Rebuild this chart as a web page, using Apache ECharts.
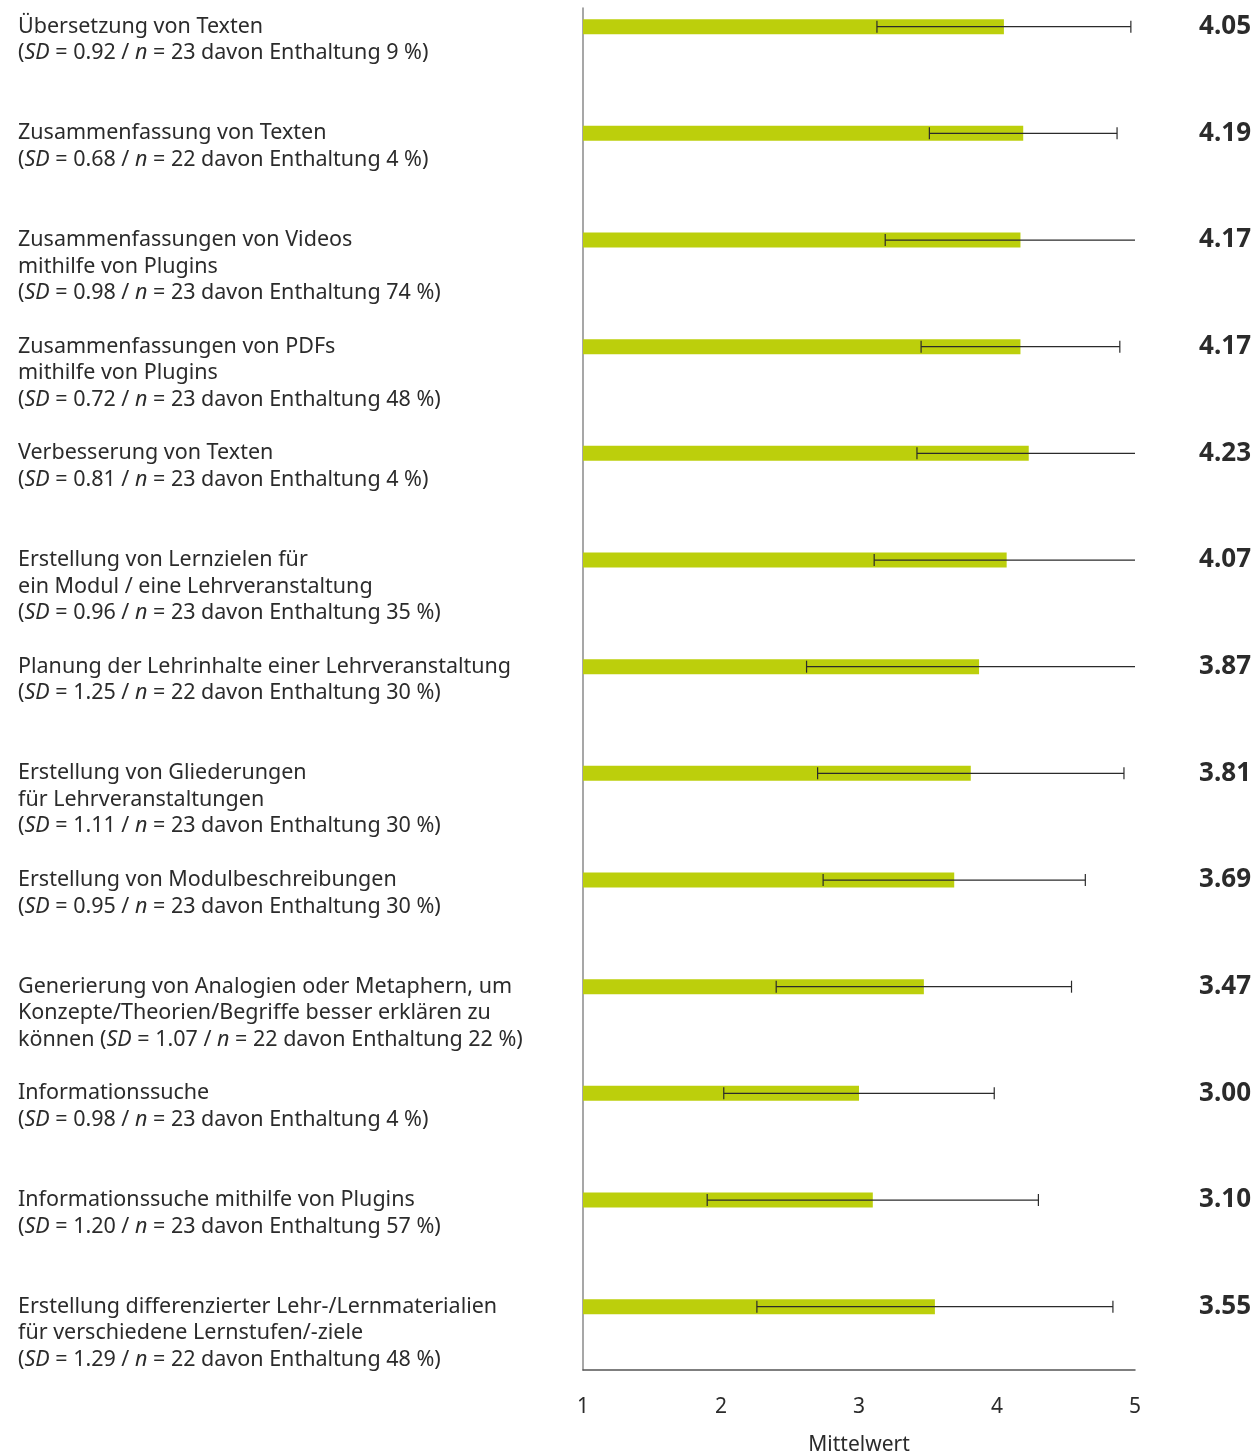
<!DOCTYPE html>
<html>
<head>
<meta charset="utf-8">
<script src="https://cdn.jsdelivr.net/npm/echarts@6/dist/echarts.min.js"></script>
<style>
  html, body { margin: 0; padding: 0; background: #fff; }
  #chart { width: 1258px; height: 1454px; }
</style>
</head>
<body>
<div id="chart"></div>
<script>
// item texts (the last line break / space joins the SD part)
var names = [
    'Übersetzung von Texten\n',
    'Zusammenfassung von Texten\n',
    'Zusammenfassungen von Videos\nmithilfe von Plugins\n',
    'Zusammenfassungen von PDFs\nmithilfe von Plugins\n',
    'Verbesserung von Texten\n',
    'Erstellung von Lernzielen für\nein Modul / eine Lehrveranstaltung\n',
    'Planung der Lehrinhalte einer Lehrveranstaltung\n',
    'Erstellung von Gliederungen\nfür Lehrveranstaltungen\n',
    'Erstellung von Modulbeschreibungen\n',
    'Generierung von Analogien oder Metaphern, um\nKonzepte/Theorien/Begriffe besser erklären zu\nkönnen ',
    'Informationssuche\n',
    'Informationssuche mithilfe von Plugins\n',
    'Erstellung differenzierter Lehr-/Lernmaterialien\nfür verschiedene Lernstufen/-ziele\n'
];
var means = [4.05, 4.19, 4.17, 4.17, 4.23, 4.07, 3.87, 3.81, 3.69, 3.47, 3.00, 3.10, 3.55];
var sdValues = [0.92, 0.68, 0.98, 0.72, 0.81, 0.96, 1.25, 1.11, 0.95, 1.07, 0.98, 1.20, 1.29];
var nValues = [23, 22, 23, 23, 23, 23, 22, 23, 23, 22, 23, 23, 22];
var abstention = [9, 4, 74, 48, 4, 35, 30, 30, 30, 22, 4, 57, 48];
var xTicks = [1, 2, 3, 4, 5];

var textColor = '#2b2b2b';
var fontFam = '"Noto Sans", sans-serif';
var idx = names.map(function (d, i) { return i; });

var domChart = document.getElementById('chart');
var myChart = echarts.init(domChart);

function itemLabel(value, i) {
    return names[i] + '({i|SD} = ' + sdValues[i].toFixed(2) + ' / {i|n} = ' + nValues[i] +
        ' davon Enthaltung ' + abstention[i] + ' %)';
}

var errData = means.map(function (m, i) {
    return [m - sdValues[i], m + sdValues[i], i];
});

var option = {
    backgroundColor: '#fff',
    animation: false,
    grid: [
        // bars: first/last category sit on the top/bottom edge (boundaryGap false)
        { left: 583, right: 123, top: 26.7, height: 1280, outerBoundsMode: 'none' },
        // frame + x axis
        { left: 583, right: 123, top: 8, bottom: 84, outerBoundsMode: 'none' },
        // left labels, shifted up half a line
        { left: 583, right: 123, top: 13.4, height: 1280, outerBoundsMode: 'none' }
    ],
    xAxis: [
        { gridIndex: 0, type: 'value', min: 1, max: 5, show: false },
        {
            gridIndex: 1, type: 'value', min: 1, max: 5, interval: 1,
            axisLine: { show: true, onZero: false, lineStyle: { color: '#555', width: 1.5 } },
            axisTick: { show: false },
            splitLine: { show: false },
            axisLabel: {
                margin: 27, color: textColor, fontSize: 21, fontFamily: fontFam,
                formatter: function (v) { return xTicks.indexOf(v) >= 0 ? String(v) : ''; }
            },
            name: 'Mittelwert', nameLocation: 'middle', nameGap: 65,
            nameTextStyle: { color: textColor, fontSize: 21, fontFamily: fontFam }
        },
        { gridIndex: 2, type: 'value', min: 1, max: 5, show: false }
    ],
    yAxis: [
        { gridIndex: 0, type: 'category', data: idx, inverse: true, boundaryGap: false, show: false },
        {
            gridIndex: 0, type: 'category', data: idx, inverse: true, boundaryGap: false, position: 'right',
            axisLine: { show: false }, axisTick: { show: false }, splitLine: { show: false },
            axisLabel: {
                interval: 0, align: 'right', margin: 116,
                color: textColor, fontSize: 26, fontWeight: 'bold', fontFamily: fontFam,
                formatter: function (v, i) { return means[i].toFixed(2); }
            }
        },
        {
            gridIndex: 1, type: 'value', min: 0, max: 1,
            axisLine: { show: true, onZero: false, lineStyle: { color: '#8a8a8a', width: 1.5 } },
            axisTick: { show: false }, axisLabel: { show: false }, splitLine: { show: false }
        },
        {
            gridIndex: 2, type: 'category', data: idx, inverse: true, boundaryGap: false,
            axisLine: { show: false }, axisTick: { show: false }, splitLine: { show: false },
            axisLabel: {
                interval: 0, align: 'left', verticalAlign: 'top', margin: 565,
                color: textColor, fontSize: 21.5, lineHeight: 26.5, fontFamily: fontFam,
                formatter: itemLabel,
                rich: {
                    i: { fontStyle: 'italic', color: textColor, fontSize: 21.5, lineHeight: 26.5, fontFamily: fontFam }
                }
            }
        }
    ],
    series: [
        {
            type: 'bar',
            xAxisIndex: 0, yAxisIndex: 0,
            data: means,
            barWidth: 15,
            itemStyle: { color: '#bccf0c' },
            silent: true
        },
        {
            type: 'custom',
            xAxisIndex: 0, yAxisIndex: 0,
            data: errData,
            encode: { x: [0, 1], y: 2 },
            renderItem: function (params, api) {
                var lo = api.value(0), hi = api.value(1), cat = api.value(2);
                var loC = Math.max(1, lo), hiC = Math.min(5, hi);
                var p1 = api.coord([loC, cat]);
                var p2 = api.coord([hiC, cat]);
                var h = 6;
                var st = { stroke: '#2b2b2b', lineWidth: 1.2 };
                var kids = [{ type: 'line', shape: { x1: p1[0], y1: p1[1], x2: p2[0], y2: p2[1] }, style: st }];
                if (lo >= 1) kids.push({ type: 'line', shape: { x1: p1[0], y1: p1[1] - h, x2: p1[0], y2: p1[1] + h }, style: st });
                if (hi <= 5) kids.push({ type: 'line', shape: { x1: p2[0], y1: p2[1] - h, x2: p2[0], y2: p2[1] + h }, style: st });
                return { type: 'group', children: kids };
            },
            z: 5,
            silent: true
        }
    ]
};
myChart.setOption(option);
</script>
</body>
</html>
